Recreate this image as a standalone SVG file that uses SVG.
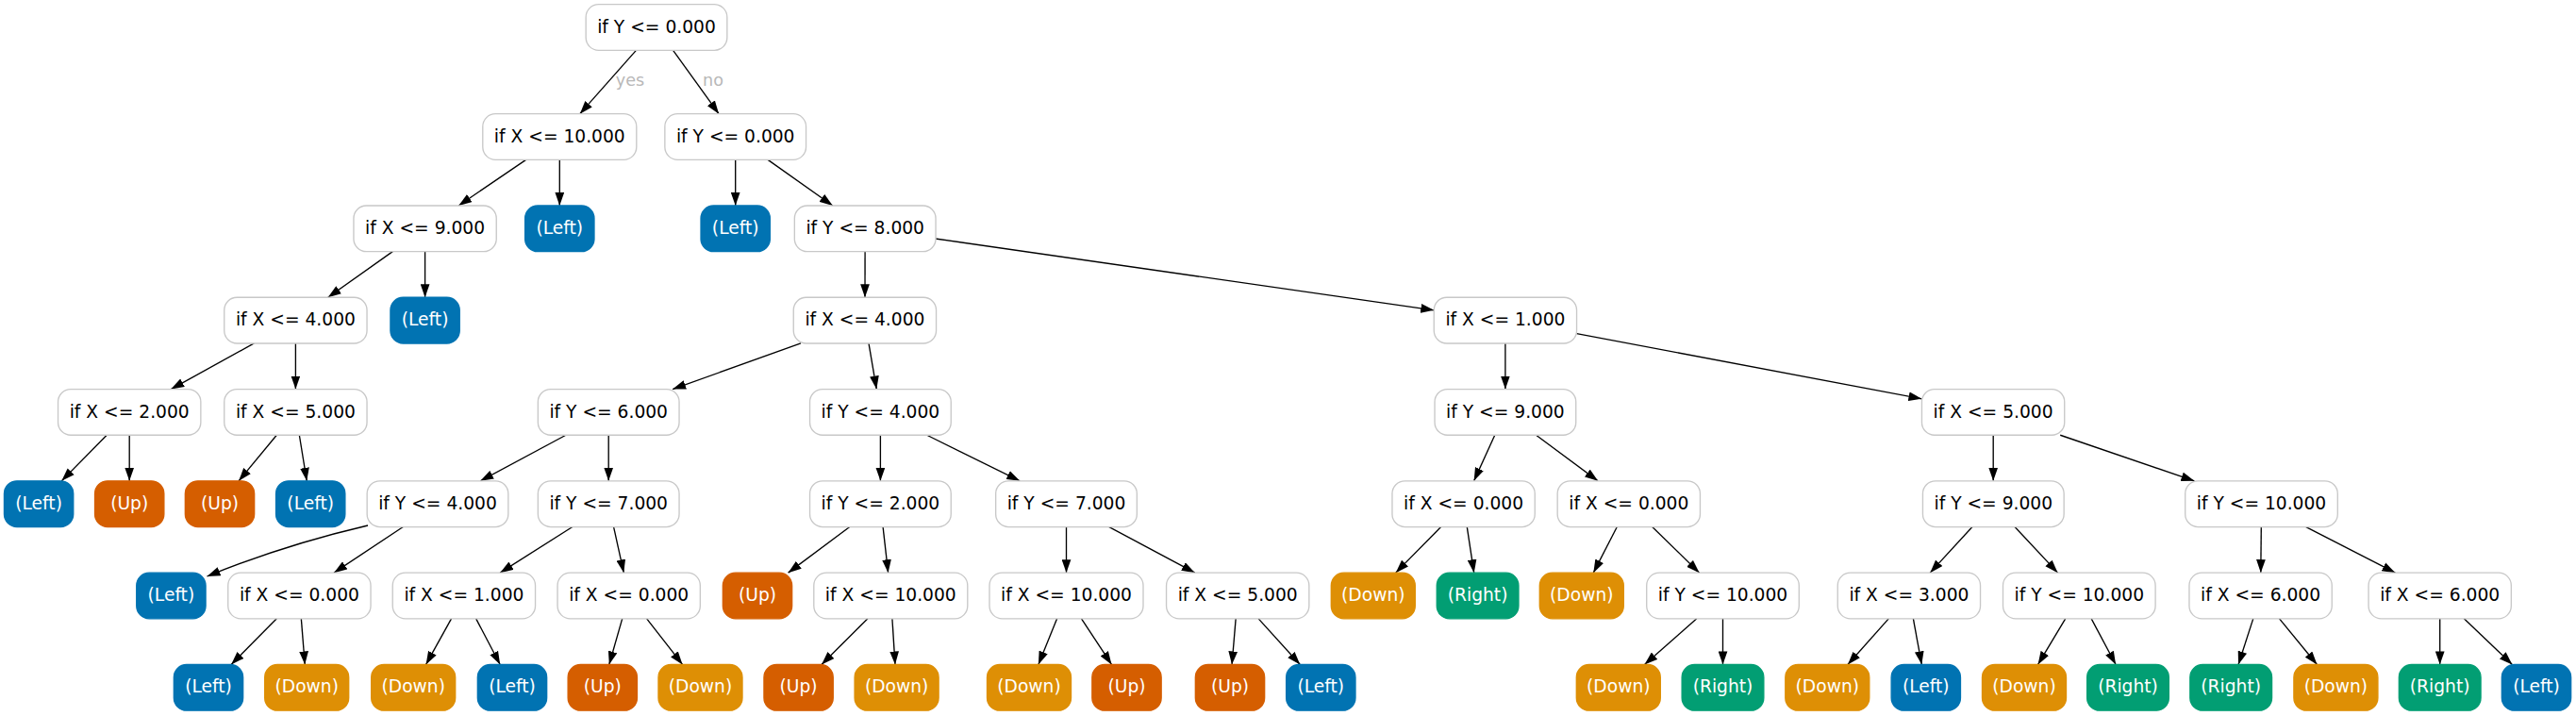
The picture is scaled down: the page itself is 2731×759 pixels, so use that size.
<svg xmlns="http://www.w3.org/2000/svg" width="2731" height="759" viewBox="0 0 2731 759">
<style>
.n rect{stroke-width:1.35;}
.d rect{fill:#ffffff;stroke:#c8c8c8;}
.L rect{fill:#0173b2;stroke:#0173b2;}
.U rect{fill:#d55e00;stroke:#d55e00;}
.D rect{fill:#de8f05;stroke:#de8f05;}
.R rect{fill:#029e73;stroke:#029e73;}
.n text{font-family:"DejaVu Sans",sans-serif;font-size:18.67px;text-anchor:middle;}
.d text{fill:#000000;}
.L text,.U text,.D text,.R text{fill:#ffffff;}
#edges path{fill:none;stroke:#000000;stroke-width:1.35;marker-end:url(#arr);}
#edges text{font-family:"DejaVu Sans",sans-serif;font-size:17.6px;fill:#b8b8b8;text-anchor:middle;}
</style>
<defs>
<marker id="arr" markerUnits="userSpaceOnUse" markerWidth="14" markerHeight="10" viewBox="0 0 13.5 9.4" refX="13.5" refY="4.7" orient="auto">
<path d="M0,0 L13.5,4.7 L0,9.4 Z" fill="#000000"/>
</marker>
</defs>
<rect width="2731" height="759" fill="#ffffff"/>
<g id="edges">
<path d="M674.4,53.35 L614.8,120.65"/>
<path d="M713.6,53.35 L762.1,120.65"/>
<text x="668" y="90.7">yes</text>
<text x="756" y="90.7">no</text>
<path d="M557.6,169.35 L486.25,217.95"/>
<path d="M593.3,169.35 L593.3,217.95"/>
<path d="M779.7,169.35 L779.7,217.95"/>
<path d="M814.1,169.35 L882.8,217.95"/>
<path d="M416.3,266.65 L347.7,315.25"/>
<path d="M450.6,266.65 L450.6,315.25"/>
<path d="M917.1,266.65 L917,315.25"/>
<path d="M991.55,252.96 L1520.25,328.85"/>
<path d="M269.35,363.95 L181.25,412.55"/>
<path d="M313.4,363.95 L313.4,412.55"/>
<path d="M849,363.95 L713.1,412.55"/>
<path d="M921,363.95 L929.3,412.55"/>
<path d="M1595.9,363.95 L1595.9,412.55"/>
<path d="M1671.55,353.7 L2037.45,422.8"/>
<path d="M113.2,461.25 L65.3,509.85"/>
<path d="M137.2,461.25 L137.2,509.85"/>
<path d="M293.3,461.25 L253.1,509.85"/>
<path d="M317.35,461.25 L325.25,509.85"/>
<path d="M599.9,461.25 L509.3,509.85"/>
<path d="M645.2,461.25 L645.2,509.85"/>
<path d="M933.4,461.25 L933.4,509.85"/>
<path d="M982.7,461.25 L1081.2,509.85"/>
<path d="M1584.75,461.25 L1562.65,509.85"/>
<path d="M1628.55,461.25 L1694.05,509.85"/>
<path d="M2113.2,461.25 L2113.2,509.85"/>
<path d="M2184.2,461.25 L2326.4,509.85"/>
<path d="M390,557 Q300,578 219.5,611"/>
<path d="M427.35,558.55 L354.05,607.15"/>
<path d="M606.9,558.55 L530.2,607.15"/>
<path d="M650.6,558.55 L661.3,607.15"/>
<path d="M900.8,558.55 L835.6,607.15"/>
<path d="M936.1,558.55 L941.6,607.15"/>
<path d="M1130.5,558.55 L1130.5,607.15"/>
<path d="M1175.9,558.55 L1266.8,607.15"/>
<path d="M1527.6,558.55 L1479.7,607.15"/>
<path d="M1555.3,558.55 L1562.7,607.15"/>
<path d="M1714.3,558.55 L1689.3,607.15"/>
<path d="M1751.7,558.55 L1801.6,607.15"/>
<path d="M2090.95,558.55 L2046.25,607.15"/>
<path d="M2136.05,558.55 L2181.55,607.15"/>
<path d="M2397.3,558.55 L2396.8,607.15"/>
<path d="M2444.8,558.55 L2539.4,607.15"/>
<path d="M293.3,655.85 L245.1,704.45"/>
<path d="M319.35,655.85 L323.25,704.45"/>
<path d="M478.5,655.85 L451.6,704.45"/>
<path d="M504.7,655.85 L530.2,704.45"/>
<path d="M659.7,655.85 L645.8,704.45"/>
<path d="M685.65,655.85 L723.55,704.45"/>
<path d="M919.9,655.85 L871,704.45"/>
<path d="M945.9,655.85 L949,704.45"/>
<path d="M1120.6,655.85 L1100.9,704.45"/>
<path d="M1146.5,655.85 L1178.5,704.45"/>
<path d="M1310.15,655.85 L1306.05,704.45"/>
<path d="M1334.2,655.85 L1378.3,704.45"/>
<path d="M1798.8,655.85 L1743.5,704.45"/>
<path d="M1826.5,655.85 L1826.5,704.45"/>
<path d="M2002.25,655.85 L1958.95,704.45"/>
<path d="M2028.4,655.85 L2037.3,704.45"/>
<path d="M2189.7,655.85 L2160.6,704.45"/>
<path d="M2217.2,655.85 L2243.1,704.45"/>
<path d="M2388.75,655.85 L2373.05,704.45"/>
<path d="M2416.55,655.85 L2456.45,704.45"/>
<path d="M2586.7,655.85 L2586.7,704.45"/>
<path d="M2612.3,655.85 L2663.4,704.45"/>
</g>
<g id="n0" class="n d"><rect x="621.15" y="4.65" width="149.7" height="48.7" rx="13.5"/><text x="696" y="34.6">if Y &lt;= 0.000</text></g>
<g id="n1" class="n d"><rect x="511.8" y="120.65" width="163" height="48.7" rx="13.5"/><text x="593.3" y="150.6">if X &lt;= 10.000</text></g>
<g id="n2" class="n d"><rect x="704.85" y="120.65" width="149.7" height="48.7" rx="13.5"/><text x="779.7" y="150.6">if Y &lt;= 0.000</text></g>
<g id="n3" class="n d"><rect x="374.95" y="217.95" width="151.3" height="48.7" rx="13.5"/><text x="450.6" y="247.9">if X &lt;= 9.000</text></g>
<g id="n4" class="n L"><rect x="556.65" y="217.95" width="73.3" height="48.7" rx="13.5"/><text x="593.3" y="247.9">(Left)</text></g>
<g id="n5" class="n L"><rect x="743.05" y="217.95" width="73.3" height="48.7" rx="13.5"/><text x="779.7" y="247.9">(Left)</text></g>
<g id="n6" class="n d"><rect x="842.35" y="217.95" width="149.7" height="48.7" rx="13.5"/><text x="917.2" y="247.9">if Y &lt;= 8.000</text></g>
<g id="n7" class="n d"><rect x="237.75" y="315.25" width="151.3" height="48.7" rx="13.5"/><text x="313.4" y="345.2">if X &lt;= 4.000</text></g>
<g id="n8" class="n L"><rect x="413.95" y="315.25" width="73.3" height="48.7" rx="13.5"/><text x="450.6" y="345.2">(Left)</text></g>
<g id="n9" class="n d"><rect x="841.25" y="315.25" width="151.3" height="48.7" rx="13.5"/><text x="916.9" y="345.2">if X &lt;= 4.000</text></g>
<g id="n10" class="n d"><rect x="1520.25" y="315.25" width="151.3" height="48.7" rx="13.5"/><text x="1595.9" y="345.2">if X &lt;= 1.000</text></g>
<g id="n11" class="n d"><rect x="61.55" y="412.55" width="151.3" height="48.7" rx="13.5"/><text x="137.2" y="442.5">if X &lt;= 2.000</text></g>
<g id="n12" class="n d"><rect x="237.75" y="412.55" width="151.3" height="48.7" rx="13.5"/><text x="313.4" y="442.5">if X &lt;= 5.000</text></g>
<g id="n13" class="n d"><rect x="570.35" y="412.55" width="149.7" height="48.7" rx="13.5"/><text x="645.2" y="442.5">if Y &lt;= 6.000</text></g>
<g id="n14" class="n d"><rect x="858.55" y="412.55" width="149.7" height="48.7" rx="13.5"/><text x="933.4" y="442.5">if Y &lt;= 4.000</text></g>
<g id="n15" class="n d"><rect x="1521.05" y="412.55" width="149.7" height="48.7" rx="13.5"/><text x="1595.9" y="442.5">if Y &lt;= 9.000</text></g>
<g id="n16" class="n d"><rect x="2037.45" y="412.55" width="151.3" height="48.7" rx="13.5"/><text x="2113.1" y="442.5">if X &lt;= 5.000</text></g>
<g id="n17" class="n L"><rect x="4.45" y="509.85" width="73.3" height="48.7" rx="13.5"/><text x="41.1" y="539.8">(Left)</text></g>
<g id="n18" class="n U"><rect x="100.55" y="509.85" width="73.3" height="48.7" rx="13.5"/><text x="137.2" y="539.8">(Up)</text></g>
<g id="n19" class="n U"><rect x="196.35" y="509.85" width="73.3" height="48.7" rx="13.5"/><text x="233" y="539.8">(Up)</text></g>
<g id="n20" class="n L"><rect x="292.55" y="509.85" width="73.3" height="48.7" rx="13.5"/><text x="329.2" y="539.8">(Left)</text></g>
<g id="n21" class="n d"><rect x="389.15" y="509.85" width="149.7" height="48.7" rx="13.5"/><text x="464" y="539.8">if Y &lt;= 4.000</text></g>
<g id="n22" class="n d"><rect x="570.35" y="509.85" width="149.7" height="48.7" rx="13.5"/><text x="645.2" y="539.8">if Y &lt;= 7.000</text></g>
<g id="n23" class="n d"><rect x="858.55" y="509.85" width="149.7" height="48.7" rx="13.5"/><text x="933.4" y="539.8">if Y &lt;= 2.000</text></g>
<g id="n24" class="n d"><rect x="1055.65" y="509.85" width="149.7" height="48.7" rx="13.5"/><text x="1130.5" y="539.8">if Y &lt;= 7.000</text></g>
<g id="n25" class="n d"><rect x="1475.95" y="509.85" width="151.3" height="48.7" rx="13.5"/><text x="1551.6" y="539.8">if X &lt;= 0.000</text></g>
<g id="n26" class="n d"><rect x="1651.15" y="509.85" width="151.3" height="48.7" rx="13.5"/><text x="1726.8" y="539.8">if X &lt;= 0.000</text></g>
<g id="n27" class="n d"><rect x="2038.45" y="509.85" width="149.7" height="48.7" rx="13.5"/><text x="2113.3" y="539.8">if Y &lt;= 9.000</text></g>
<g id="n28" class="n d"><rect x="2316.7" y="509.85" width="161.6" height="48.7" rx="13.5"/><text x="2397.5" y="539.8">if Y &lt;= 10.000</text></g>
<g id="n29" class="n L"><rect x="144.75" y="607.15" width="73.3" height="48.7" rx="13.5"/><text x="181.4" y="637.1">(Left)</text></g>
<g id="n30" class="n d"><rect x="241.75" y="607.15" width="151.3" height="48.7" rx="13.5"/><text x="317.4" y="637.1">if X &lt;= 0.000</text></g>
<g id="n31" class="n d"><rect x="416.25" y="607.15" width="151.3" height="48.7" rx="13.5"/><text x="491.9" y="637.1">if X &lt;= 1.000</text></g>
<g id="n32" class="n d"><rect x="591.05" y="607.15" width="151.3" height="48.7" rx="13.5"/><text x="666.7" y="637.1">if X &lt;= 0.000</text></g>
<g id="n33" class="n U"><rect x="766.35" y="607.15" width="73.3" height="48.7" rx="13.5"/><text x="803" y="637.1">(Up)</text></g>
<g id="n34" class="n d"><rect x="862.8" y="607.15" width="163" height="48.7" rx="13.5"/><text x="944.3" y="637.1">if X &lt;= 10.000</text></g>
<g id="n35" class="n d"><rect x="1049" y="607.15" width="163" height="48.7" rx="13.5"/><text x="1130.5" y="637.1">if X &lt;= 10.000</text></g>
<g id="n36" class="n d"><rect x="1236.55" y="607.15" width="151.3" height="48.7" rx="13.5"/><text x="1312.2" y="637.1">if X &lt;= 5.000</text></g>
<g id="n37" class="n D"><rect x="1411.3" y="607.15" width="89" height="48.7" rx="13.5"/><text x="1455.8" y="637.1">(Down)</text></g>
<g id="n38" class="n R"><rect x="1523.25" y="607.15" width="86.7" height="48.7" rx="13.5"/><text x="1566.6" y="637.1">(Right)</text></g>
<g id="n39" class="n D"><rect x="1632.3" y="607.15" width="89" height="48.7" rx="13.5"/><text x="1676.8" y="637.1">(Down)</text></g>
<g id="n40" class="n d"><rect x="1745.7" y="607.15" width="161.6" height="48.7" rx="13.5"/><text x="1826.5" y="637.1">if Y &lt;= 10.000</text></g>
<g id="n41" class="n d"><rect x="1948.25" y="607.15" width="151.3" height="48.7" rx="13.5"/><text x="2023.9" y="637.1">if X &lt;= 3.000</text></g>
<g id="n42" class="n d"><rect x="2123.5" y="607.15" width="161.6" height="48.7" rx="13.5"/><text x="2204.3" y="637.1">if Y &lt;= 10.000</text></g>
<g id="n43" class="n d"><rect x="2320.95" y="607.15" width="151.3" height="48.7" rx="13.5"/><text x="2396.6" y="637.1">if X &lt;= 6.000</text></g>
<g id="n44" class="n d"><rect x="2511.05" y="607.15" width="151.3" height="48.7" rx="13.5"/><text x="2586.7" y="637.1">if X &lt;= 6.000</text></g>
<g id="n45" class="n L"><rect x="184.35" y="704.45" width="73.3" height="48.7" rx="13.5"/><text x="221" y="734.4">(Left)</text></g>
<g id="n46" class="n D"><rect x="280.7" y="704.45" width="89" height="48.7" rx="13.5"/><text x="325.2" y="734.4">(Down)</text></g>
<g id="n47" class="n D"><rect x="393.7" y="704.45" width="89" height="48.7" rx="13.5"/><text x="438.2" y="734.4">(Down)</text></g>
<g id="n48" class="n L"><rect x="506.35" y="704.45" width="73.3" height="48.7" rx="13.5"/><text x="543" y="734.4">(Left)</text></g>
<g id="n49" class="n U"><rect x="602.15" y="704.45" width="73.3" height="48.7" rx="13.5"/><text x="638.8" y="734.4">(Up)</text></g>
<g id="n50" class="n D"><rect x="698" y="704.45" width="89" height="48.7" rx="13.5"/><text x="742.5" y="734.4">(Down)</text></g>
<g id="n51" class="n U"><rect x="809.95" y="704.45" width="73.3" height="48.7" rx="13.5"/><text x="846.6" y="734.4">(Up)</text></g>
<g id="n52" class="n D"><rect x="906.1" y="704.45" width="89" height="48.7" rx="13.5"/><text x="950.6" y="734.4">(Down)</text></g>
<g id="n53" class="n D"><rect x="1046.5" y="704.45" width="89" height="48.7" rx="13.5"/><text x="1091" y="734.4">(Down)</text></g>
<g id="n54" class="n U"><rect x="1157.85" y="704.45" width="73.3" height="48.7" rx="13.5"/><text x="1194.5" y="734.4">(Up)</text></g>
<g id="n55" class="n U"><rect x="1267.35" y="704.45" width="73.3" height="48.7" rx="13.5"/><text x="1304" y="734.4">(Up)</text></g>
<g id="n56" class="n L"><rect x="1363.65" y="704.45" width="73.3" height="48.7" rx="13.5"/><text x="1400.3" y="734.4">(Left)</text></g>
<g id="n57" class="n D"><rect x="1671.3" y="704.45" width="89" height="48.7" rx="13.5"/><text x="1715.8" y="734.4">(Down)</text></g>
<g id="n58" class="n R"><rect x="1783.15" y="704.45" width="86.7" height="48.7" rx="13.5"/><text x="1826.5" y="734.4">(Right)</text></g>
<g id="n59" class="n D"><rect x="1892.8" y="704.45" width="89" height="48.7" rx="13.5"/><text x="1937.3" y="734.4">(Down)</text></g>
<g id="n60" class="n L"><rect x="2005.15" y="704.45" width="73.3" height="48.7" rx="13.5"/><text x="2041.8" y="734.4">(Left)</text></g>
<g id="n61" class="n D"><rect x="2101.5" y="704.45" width="89" height="48.7" rx="13.5"/><text x="2146" y="734.4">(Down)</text></g>
<g id="n62" class="n R"><rect x="2212.65" y="704.45" width="86.7" height="48.7" rx="13.5"/><text x="2256" y="734.4">(Right)</text></g>
<g id="n63" class="n R"><rect x="2321.85" y="704.45" width="86.7" height="48.7" rx="13.5"/><text x="2365.2" y="734.4">(Right)</text></g>
<g id="n64" class="n D"><rect x="2431.9" y="704.45" width="89" height="48.7" rx="13.5"/><text x="2476.4" y="734.4">(Down)</text></g>
<g id="n65" class="n R"><rect x="2543.35" y="704.45" width="86.7" height="48.7" rx="13.5"/><text x="2586.7" y="734.4">(Right)</text></g>
<g id="n66" class="n L"><rect x="2652.35" y="704.45" width="73.3" height="48.7" rx="13.5"/><text x="2689" y="734.4">(Left)</text></g>
</svg>
